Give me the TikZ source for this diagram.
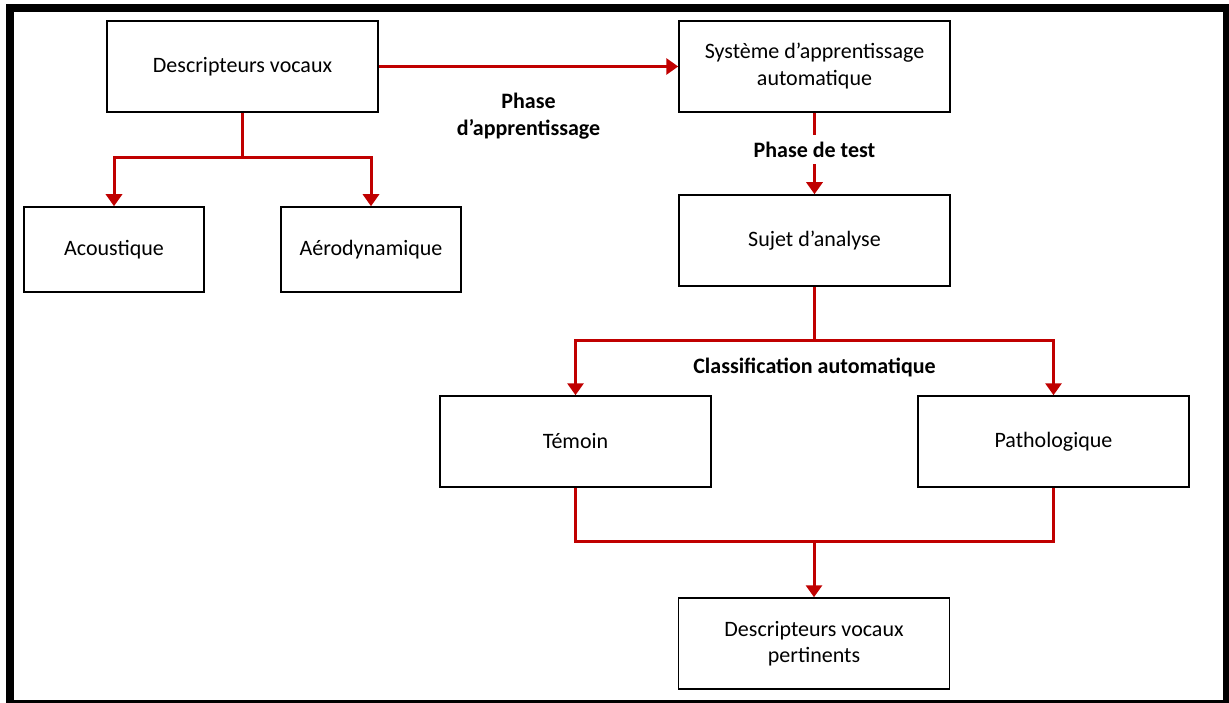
\documentclass[tikz,border=0pt]{standalone}
\usepackage{fontspec}
\setmainfont{Carlito}
\usepackage{tikz}
\usetikzlibrary{arrows.meta}
\definecolor{linkred}{HTML}{C00000}

\begin{document}
\begin{tikzpicture}[x=1pt,y=-1pt,
	font=\fontsize{22}{27}\selectfont,
	box/.style={draw, line width=1.5pt, minimum width=271pt, minimum height=91pt, align=center, inner sep=0pt},
	smallbox/.style={box, minimum width=180pt, minimum height=85pt},
	link/.style={draw=linkred, line width=3pt},
	tip/.style={-{Triangle[width=16pt,length=12pt]}},
	lbl/.style={font=\fontsize{22}{27}\selectfont\bfseries, align=center, inner sep=3pt}]
	\useasboundingbox (0,0) rectangle (1229,703);
	\fill (6,4) rectangle (1229,703);
	\fill[white] (14,12) rectangle (1223,700);

	\node[box] (desc) at (242.5,66.5) {Descripteurs vocaux};
	\node[smallbox] (acou) at (114,249.5) {Acoustique};
	\node[smallbox] (aero) at (371,249.5) {Aérodynamique};
	\node[box] (sys) at (814.5,66.5) {Système d’apprentissage\\automatique};
	\node[box] (sujet) at (814.5,240.5) {Sujet d’analyse};
	\node[box] (temoin) at (575.5,441.5) {Témoin};
	\node[box] (patho) at (1053.5,441.5) {Pathologique};
	\node[box, font=\fontsize{22}{26}\selectfont] (final) at (814,643.5) {Descripteurs vocaux\\pertinents};

	\coordinate (j1) at (242.5,158);
	\coordinate (j2) at (814.5,341);
	\coordinate (j3) at (814,541);

	\draw[link,tip] (desc) -- node[lbl, below=22pt]{Phase\\d’apprentissage} (sys);
	\draw[link] (desc) -- (j1);
	\draw[link,tip] (j1) -| (acou);
	\draw[link,tip] (j1) -| (aero);
	\draw[link,tip] (sys) -- node[lbl, pos=0.45, fill=white, inner ysep=7pt]{Phase de test} (sujet);
	\draw[link] (sujet) -- (j2) node[lbl, below=13pt]{Classification automatique};
	\draw[link,tip] (j2) -| (temoin);
	\draw[link,tip] (j2) -| (patho);
	\draw[link] (temoin) |- (j3) -| (patho);
	\draw[link,tip] (j3) -- (final);
\end{tikzpicture}
\end{document}
